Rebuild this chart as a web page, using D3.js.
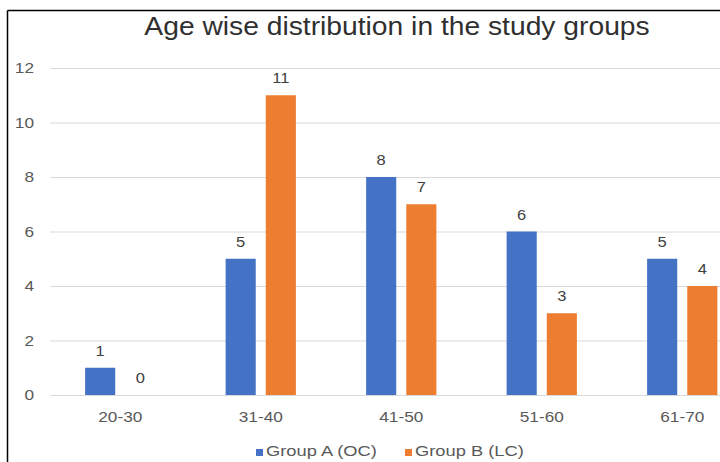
<!DOCTYPE html>
<html><head><meta charset="utf-8">
<script src="https://cdn.jsdelivr.net/npm/d3@7/dist/d3.min.js"></script>
<style>body{margin:0;background:#fff}svg{display:block}text{font-family:"Liberation Sans",Arial,sans-serif}</style>
</head><body><svg id="c" width="720" height="462"></svg>
<script>
const categories = ["20-30","31-40","41-50","51-60","61-70"];
const groupA = [1,5,8,6,5];
const groupB = [0,11,7,3,4];
const seriesNames = ["Group A (OC)","Group B (LC)"];
const seriesColors = ["#4472C4","#ED7D31"];
const yTicks = [0,2,4,6,8,10,12];
const title = "Age wise distribution in the study groups";

const svg = d3.select("#c");
svg.append("rect").attr("x",0).attr("y",0).attr("width",720).attr("height",462).attr("fill","#fff");

function stext(parent, x, y, str, size, sx, anchor, fill, dy){
  return parent.append("text")
    .attr("transform",`translate(${x},${y}) scale(${sx},1)`)
    .attr("text-anchor",anchor).attr("font-size",size).attr("fill",fill)
    .attr("dy",dy||0).text(str);
}

const y = d3.scaleLinear().domain([0,12]).range([395,68]);
const x0 = d3.scaleBand().domain(categories).range([50,752.5]).paddingInner(0.5).paddingOuter(0.25);
const x1 = d3.scaleBand().domain([0,1]).range([0,x0.bandwidth()]).paddingInner(0.25).paddingOuter(0);

// gridlines
const yAxis = d3.axisLeft(y).tickValues(yTicks).tickSize(-(760-50)).tickFormat("");
const gy = svg.append("g").attr("transform","translate(50,0)").call(yAxis);
gy.select(".domain").remove();
gy.selectAll(".tick line").attr("stroke","#d9d9d9").attr("stroke-width",1);

// y tick labels
yTicks.forEach(t=>stext(svg, 34, y(t), d3.format("d")(t), 15, 1.15, "end", "#595959", "0.35em"));
// x labels
categories.forEach(c=>stext(svg, x0(c)+x0.bandwidth()/2, 422, c, 15, 1.15, "middle", "#595959"));

const data = categories.map((c,i)=>({c, v:[groupA[i],groupB[i]]}));
const g = svg.selectAll("g.grp").data(data).enter().append("g").attr("class","grp")
  .attr("transform",d=>`translate(${x0(d.c)},0)`);
g.selectAll("rect").data(d=>d.v.map((v,k)=>({v,k}))).enter().append("rect")
  .attr("x",d=>x1(d.k)).attr("width",x1.bandwidth())
  .attr("y",d=>y(d.v)).attr("height",d=>y(0)-y(d.v))
  .attr("fill",d=>seriesColors[d.k]);
g.each(function(d){
  const gg = d3.select(this);
  d.v.forEach((v,k)=>stext(gg, x1(k)+x1.bandwidth()/2, y(v)-12, v, 15, 1.1, "middle", "#404040"));
});

stext(svg, 397, 35, title, 25, 1.13, "middle", "#303030");

// legend
const lg = svg.append("g").attr("transform","translate(256,456)");
const lx = [0,149];
seriesNames.forEach((n,i)=>{
  lg.append("rect").attr("x",lx[i]).attr("y",-7).attr("width",7).attr("height",7).attr("fill",seriesColors[i]);
  stext(lg, lx[i]+10, 0, n, 15, 1.22, "start", "#595959");
});

// frame
svg.append("line").attr("x1",7.5).attr("x2",7.5).attr("y1",10.5).attr("y2",462).attr("stroke","#000").attr("stroke-width",1.5);
svg.append("line").attr("x1",7.5).attr("x2",720).attr("y1",10.5).attr("y2",10.5).attr("stroke","#000").attr("stroke-width",1.5);
</script></body></html>
